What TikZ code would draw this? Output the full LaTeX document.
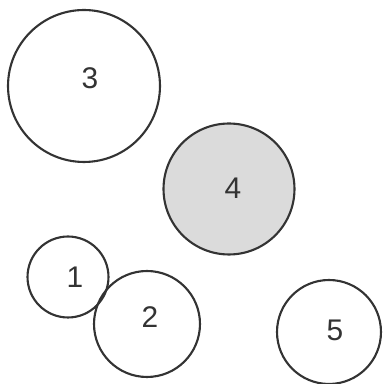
\documentclass[tikz,border=0pt]{standalone}
\usepackage{fontspec}
\setmainfont{Liberation Sans}
\begin{document}
\begin{tikzpicture}[x=0.02cm, y=-0.02cm, font=\fontsize{17}{20}\selectfont,
  disc/.style={circle, draw=black!80, line width=1.2pt, inner sep=0pt},
  hot/.style={disc, fill=black!14},
  num/.style={text=black!80, inner sep=1pt}]
  \useasboundingbox (0,0) rectangle (386,384);
  % five spheres
  \node[disc, minimum size=3.04cm] (c3) at (84,86) {};
  \node[hot,  minimum size=2.62cm] (c4) at (229,189) {};
  \node[disc, minimum size=1.62cm] (c1) at (68,277) {};
  \node[disc, minimum size=2.12cm] (c2) at (147,324) {};
  \node[disc, minimum size=2.08cm] (c5) at (329,332) {};
  % numbers
  \node[num] (n3) at (90,78) {3};
  \node[num] (n4) at (233,188) {4};
  \node[num] (n1) at (75,277) {1};
  \node[num] (n2) at (150,317) {2};
  \node[num] (n5) at (335,330) {5};
\end{tikzpicture}
\end{document}
